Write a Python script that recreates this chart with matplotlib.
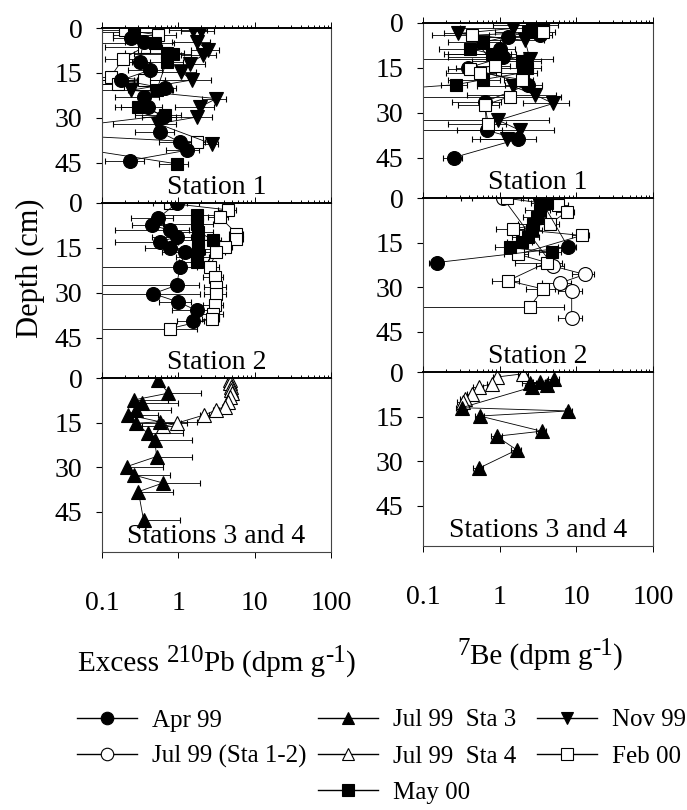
import matplotlib
matplotlib.use("Agg")
import matplotlib.pyplot as plt
from matplotlib.lines import Line2D
from matplotlib.ticker import LogLocator, NullFormatter, FixedLocator

plt.rcParams["font.family"] = "Liberation Serif"

# (depth cm, activity dpm/g, error)
# --- Excess 210Pb, Station 1
pb_st1_apr99 = [(3.5, 0.24, 0.10), (4.6, 0.35, 0.15), (11.3, 0.31, 0.12), (14.1, 0.42, 0.20),
                (17.4, 0.18, 0.08), (20.2, 0.67, 0.25), (23.0, 0.35, 0.20), (26.4, 0.40, 0.22),
                (29.8, 0.63, 0.30), (34.8, 0.57, 0.30), (38.1, 1.05, 0.50), (40.9, 1.28, 0.60),
                (44.3, 0.23, 0.12)]
pb_st1_nov99 = [(0.8, 1.56, 0.80), (0.9, 2.00, 0.90), (4.6, 1.73, 0.90), (7.4, 2.45, 1.00),
                (9.1, 2.10, 1.00), (11.9, 1.41, 0.80), (14.7, 1.10, 0.60), (17.4, 1.49, 1.20),
                (20.8, 0.24, 0.60), (23.6, 3.16, 1.10), (26.4, 1.91, 1.00), (29.8, 1.73, 1.00),
                (32.0, 0.54, 0.40), (38.7, 2.72, 0.60)]
pb_st1_may00 = [(1.2, 0.26, 0.20), (5.1, 0.49, 0.40), (8.5, 0.70, 0.50), (8.6, 0.86, 0.60),
                (11.3, 0.70, 0.45), (20.8, 0.52, 0.30), (26.4, 0.30, 0.15), (29.2, 0.67, 0.40),
                (36.0, 0.004, 0.0), (45.4, 0.95, 0.40)]
pb_st1_feb00 = [(0.7, 0.20, 0.10), (2.3, 0.54, 0.40), (6.3, 0.36, 0.25), (10.2, 0.19, 0.08),
                (16.3, 0.13, 0.05), (17.4, 0.36, 0.30), (18.6, 0.16, 0.06), (21.4, 0.003, 0.0),
                (34.5, 0.003, 0.0), (38.1, 1.73, 0.50)]

# --- Excess 210Pb, Station 2
pb_st2_apr99 = [(0.1, 0.95, 0.90), (5.1, 0.54, 0.30), (7.4, 0.45, 0.20), (9.1, 0.77, 0.62),
                (11.3, 0.95, 0.50), (13.0, 0.57, 0.42), (15.2, 0.77, 0.40), (16.3, 1.22, 0.60),
                (21.4, 1.05, 1.30), (27.5, 0.95, 0.90), (30.3, 0.47, 1.44), (33.1, 1.00, 0.45),
                (35.9, 1.73, 0.90), (39.3, 1.56, 0.60)]
pb_st2_feb00 = [(0.1, 0.77, 0.30), (2.3, 4.48, 1.20), (4.6, 3.48, 1.00), (10.2, 5.77, 1.20),
                (11.9, 5.77, 1.20), (14.7, 4.05, 1.00), (16.3, 3.16, 0.90), (21.4, 2.58, 0.80),
                (24.7, 3.00, 0.90), (28.1, 3.16, 1.00), (30.3, 3.16, 1.00), (34.2, 3.00, 0.90),
                (37.0, 2.85, 1.00), (38.7, 2.72, 0.70), (42.0, 0.77, 1.00)]
pb_st2_may00 = [(4.0, 1.73, 1.20), (6.9, 1.73, 1.10), (9.6, 1.82, 1.00), (12.4, 2.85, 0.80),
                (12.5, 1.82, 1.00), (15.4, 1.82, 0.90), (18.0, 1.73, 0.80), (19.7, 1.73, 0.70)]
pb_st2_nov99 = [(0.0, 1.00, 0.30)]

# --- Excess 210Pb, Stations 3 and 4
pb_st34_jul99s3 = [(0.7, 0.54, 0.00), (5.1, 0.74, 1.27), (7.4, 0.26, 0.48), (8.5, 0.33, 0.67),
                   (10.7, 0.28, 0.53), (12.4, 0.22, 0.32), (14.7, 0.57, 1.16), (15.2, 0.28, 0.82),
                   (18.6, 0.40, 0.75), (20.8, 0.49, 1.00), (26.4, 0.52, 1.00), (29.8, 0.21, 0.42),
                   (32.6, 0.26, 0.51), (35.3, 0.63, 1.28), (38.2, 0.30, 0.56), (47.7, 0.35, 0.70)]
pb_st34_jul99s4 = [(0.7, 4.7, 0.3), (1.8, 4.8, 0.3), (2.9, 4.9, 0.3), (4.0, 4.9, 0.3),
                   (5.1, 5.0, 0.3), (6.3, 4.8, 0.3), (8.0, 4.5, 0.3), (9.6, 4.05, 0.3),
                   (10.7, 3.16, 0.3), (12.4, 2.2, 0.3), (15.2, 0.95, 0.35), (16.3, 0.63, 0.30)]

# --- 7Be, Station 1
be_st1_apr99 = [(4.1, 3.35, 1.50), (4.7, 1.29, 0.80), (8.6, 1.00, 0.60), (10.3, 0.91, 0.70),
                (11.5, 1.11, 0.90), (14.9, 0.39, 0.12), (20.6, 2.36, 1.20), (26.3, 0.64, 0.40),
                (35.9, 0.68, 0.40), (38.8, 1.75, 1.20), (45.0, 0.25, 0.07)]
be_st1_nov99 = [(1.8, 1.50, 1.20), (3.5, 0.29, 0.10), (5.8, 2.14, 1.60), (12.0, 2.48, 2.50),
                (21.2, 1.50, 1.00), (24.0, 2.88, 2.50), (26.9, 5.00, 3.00), (32.5, 0.96, 3.50),
                (35.9, 1.84, 3.20), (38.8, 1.23, 0.80)]
be_st1_may00 = [(0.7, 2.61, 1.80), (0.8, 3.70, 2.00), (3.0, 2.36, 1.50), (6.4, 0.61, 0.40),
                (8.6, 0.41, 0.25), (10.3, 0.79, 0.60), (12.6, 1.94, 1.50), (14.9, 2.25, 1.20),
                (16.6, 2.03, 1.00), (18.9, 0.61, 0.40), (20.6, 0.27, 0.10), (24.0, 0.004, 0.0)]
be_st1_feb00 = [(3.0, 3.70, 1.50), (4.1, 0.43, 0.30), (14.3, 0.87, 0.50), (15.5, 0.41, 0.20),
                (16.6, 0.55, 0.35), (18.9, 1.94, 0.80), (24.6, 1.36, 5.00), (27.4, 0.64, 0.35),
                (33.7, 0.71, 0.50)]

# --- 7Be, Station 2
be_st2_jul99 = [(0.1, 1.11, 0.80), (22.9, 5.00, 2.00), (25.7, 12.9, 4.00), (28.6, 6.10, 2.50),
                (31.4, 8.70, 3.00), (40.5, 8.70, 3.00)]
be_st2_apr99 = [(0.1, 3.35, 1.00), (16.6, 7.85, 2.00), (21.7, 0.15, 0.03)]
be_st2_may00 = [(1.8, 4.10, 1.50), (4.1, 3.35, 1.20), (6.4, 3.03, 1.00), (8.6, 2.74, 1.00),
                (10.9, 2.61, 1.00), (13.2, 2.36, 0.90), (14.9, 1.94, 0.70), (16.6, 1.36, 0.50),
                (18.3, 4.76, 1.50)]
be_st2_feb00 = [(0.1, 1.23, 0.80), (2.4, 5.80, 2.00), (4.7, 7.46, 2.00), (8.6, 4.53, 1.50),
                (10.3, 1.50, 0.60), (12.6, 11.7, 3.00), (18.9, 1.75, 0.60), (21.7, 4.10, 2.50),
                (27.8, 1.29, 0.50), (30.6, 3.70, 1.50), (36.5, 2.48, 4.50)]

# --- 7Be, Stations 3 and 4
be_st34_jul99s3 = [(2.3, 5.10, 0.80), (3.4, 3.35, 0.60), (3.6, 2.48, 0.50), (4.5, 4.10, 0.70),
                   (5.1, 2.61, 0.50), (12.0, 0.32, 0.05), (13.1, 7.85, 0.80), (14.8, 0.55, 0.08),
                   (19.9, 3.52, 0.50), (21.6, 0.91, 0.15), (26.2, 1.67, 0.25), (32.4, 0.53, 0.08)]
be_st34_jul99s4 = [(0.6, 2.03, 0.30), (1.7, 0.91, 0.10), (4.0, 0.79, 0.10), (5.1, 0.53, 0.08),
                   (7.3, 0.43, 0.06), (9.1, 0.35, 0.05), (10.2, 0.33, 0.05)]

depth_ticks = [0, 15, 30, 45]
x_ticks = [0.1, 1, 10, 100]
x_tick_labels = ["0.1", "1", "10", "100"]
station_labels = ["Station 1", "Station 2", "Stations 3 and 4"]

STYLE = {
    "Apr 99": dict(marker="o", mfc="black", ms=10),
    "Jul 99 (Sta 1-2)": dict(marker="o", mfc="white", ms=10),
    "Jul 99  Sta 3": dict(marker="^", mfc="black", ms=10),
    "Jul 99  Sta 4": dict(marker="^", mfc="white", ms=10),
    "Nov 99": dict(marker="v", mfc="black", ms=10),
    "Feb 00": dict(marker="s", mfc="white", ms=9),
    "May 00": dict(marker="s", mfc="black", ms=9),
}

panels = {
    ("pb", 0): [("Feb 00", pb_st1_feb00), ("Apr 99", pb_st1_apr99), ("May 00", pb_st1_may00),
                ("Nov 99", pb_st1_nov99)],
    ("pb", 1): [("Feb 00", pb_st2_feb00), ("Apr 99", pb_st2_apr99), ("May 00", pb_st2_may00),
                ("Nov 99", pb_st2_nov99)],
    ("pb", 2): [("Jul 99  Sta 4", pb_st34_jul99s4), ("Jul 99  Sta 3", pb_st34_jul99s3)],
    ("be", 0): [("Apr 99", be_st1_apr99), ("Nov 99", be_st1_nov99), ("May 00", be_st1_may00),
                ("Feb 00", be_st1_feb00)],
    ("be", 1): [("Jul 99 (Sta 1-2)", be_st2_jul99), ("Feb 00", be_st2_feb00),
                ("Apr 99", be_st2_apr99), ("May 00", be_st2_may00)],
    ("be", 2): [("Jul 99  Sta 4", be_st34_jul99s4), ("Jul 99  Sta 3", be_st34_jul99s3)],
}
upper_only = {("pb", 2, "Jul 99  Sta 3")}

W, H = 687, 810
fig = plt.figure(figsize=(W / 100, H / 100), dpi=100)

# pixel boxes for each column / row
col_x = {"pb": (102, 331), "be": (423, 653)}
row_y = {"pb": [(28, 203), (203, 378), (378, 552)],
         "be": [(23, 198), (198, 372), (372, 546)]}

for col in ["pb", "be"]:
    x0, x1 = col_x[col]
    for r in range(3):
        y0, y1 = row_y[col][r]
        ax = fig.add_axes([x0 / W, 1 - y1 / H, (x1 - x0) / W, (y1 - y0) / H])
        ax.set_xscale("log")
        for name, pts in panels[(col, r)]:
            d = [p[0] for p in pts]
            v = [p[1] for p in pts]
            e = [p[2] for p in pts]
            if (col, r, name) in upper_only:
                xerr = [[0] * len(e), e]
            else:
                xerr = e
            st = STYLE[name]
            ax.errorbar(v, d, xerr=xerr, color="black", lw=0.6, elinewidth=0.6,
                        capsize=2.5, capthick=0.6, marker=st["marker"], ms=st["ms"],
                        mfc=st["mfc"], mec="black", mew=0.8)
        ax.set_xlim(0.1, 100)
        ax.set_ylim(58.5, 0)
        ax.yaxis.set_major_locator(FixedLocator(depth_ticks))
        ax.set_yticklabels([str(t) for t in depth_ticks], fontsize=20)
        ax.tick_params(axis="y", direction="out", length=4, pad=10, width=0.8)
        ax.xaxis.set_major_locator(FixedLocator(x_ticks))
        ax.xaxis.set_minor_locator(LogLocator(base=10, subs=range(2, 10)))
        ax.xaxis.set_minor_formatter(NullFormatter())
        ax.tick_params(axis="x", which="both", top=True, bottom=False, labeltop=False,
                       labelbottom=False, direction="out", width=0.7)
        ax.tick_params(axis="x", which="major", length=4)
        ax.tick_params(axis="x", which="minor", length=2)
        if r == 2:
            ax.set_xticklabels(x_tick_labels)
            ax.tick_params(axis="x", which="major", bottom=True, labelbottom=True,
                           labelsize=20, pad=24)
        for s in ["left", "right", "bottom"]:
            ax.spines[s].set_linewidth(0.8)
            ax.spines[s].set_color("#444444")
        ax.spines["top"].set_linewidth(1.4)
        ax.text(0.5, 0.015, station_labels[r], transform=ax.transAxes, ha="center",
                va="bottom", fontsize=20)

fig.text(30 / W, 1 - 268 / H, "Depth (cm)", rotation=90, ha="center", va="center", fontsize=22)

renderer = fig.canvas.get_renderer()


def piece_label(xc, y_base, pieces, size=21, sup_size=18, rise=9):
    # lay out normal and superscript pieces side by side, centred on xc (pixels)
    placed = []
    cursor = 0.0
    for s, sup in pieces:
        t = fig.text(0, 1 - (y_base - (rise if sup else 0)) / H, s,
                     fontsize=sup_size if sup else size, va="baseline", ha="left")
        placed.append((t, cursor))
        cursor += t.get_window_extent(renderer).width
    start = xc - cursor / 2
    for t, off in placed:
        t.set_x((start + off) / W)


piece_label(217, 671, [("Excess ", False), ("210", True), ("Pb (dpm g", False),
                       ("-1", True), (")", False)])
piece_label(540, 664, [("7", True), ("Be (dpm g", False), ("-1", True), (")", False)])


def handle(name):
    st = STYLE[name]
    return Line2D([], [], color="black", lw=1.0, marker=st["marker"], ms=st["ms"] - 1,
                  mfc=st["mfc"], mec="black", mew=0.8)


legend_cols = [
    (77, ["Apr 99", "Jul 99 (Sta 1-2)"]),
    (318, ["Jul 99  Sta 3", "Jul 99  Sta 4", "May 00"]),
    (537, ["Nov 99", "Feb 00"]),
]
for lx, names in legend_cols:
    fig.legend([handle(n) for n in names], names, loc="upper left",
               bbox_to_anchor=(lx / W, 1 - 709 / H), frameon=False, fontsize=18,
               handlelength=2.4, handletextpad=0.6, labelspacing=0.55,
               borderpad=0, borderaxespad=0)

fig.savefig("out.png", dpi=100)
